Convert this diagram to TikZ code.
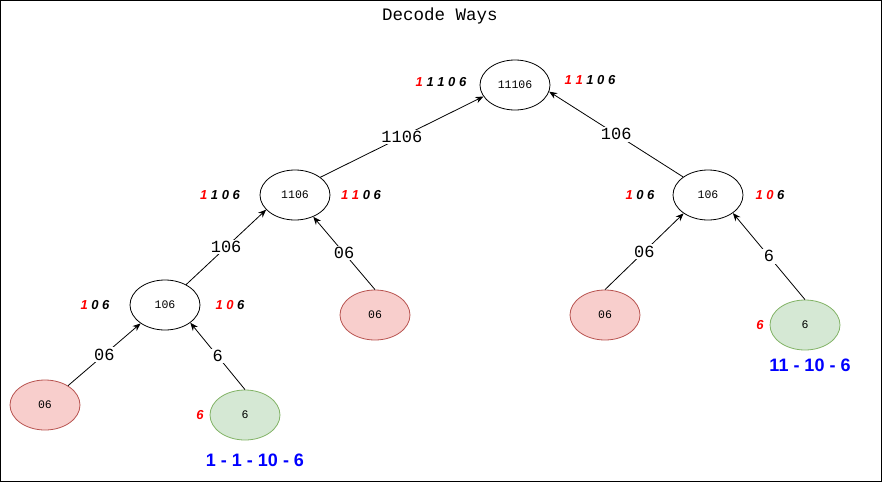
\documentclass[tikz,border=0pt]{standalone}
\usepackage{fontspec}
\setmainfont{Liberation Sans}
\newfontfamily\monofont{Liberation Mono}
\usetikzlibrary{shapes.geometric,arrows.meta}
\definecolor{pinkf}{HTML}{F8CECC}
\definecolor{pinkd}{HTML}{B85450}
\definecolor{greenf}{HTML}{D5E8D4}
\definecolor{greend}{HTML}{82B366}
\definecolor{myred}{HTML}{FF0000}
\definecolor{myblue}{HTML}{0000FF}
\begin{document}
\begin{tikzpicture}[x=1pt,y=-1pt,
  nd/.style={ellipse, draw, line width=0.8pt, minimum width=70pt, minimum height=50pt, inner sep=0pt, font=\monofont\fontsize{11.5}{13}\selectfont},
  bad/.style={nd, fill=pinkf, draw=pinkd},
  good/.style={nd, fill=greenf, draw=greend},
  edge/.style={line width=0.8pt, -{Stealth[length=8pt,width=6.5pt]}},
  lbl/.style={fill=white, inner sep=1.5pt, font=\monofont\fontsize{17}{20}\selectfont},
  seq/.style={font=\bfseries\itshape\fontsize{13}{15}\selectfont},
  res/.style={text=myblue, font=\bfseries\fontsize{18}{21}\selectfont},
  ttl/.style={font=\monofont\fontsize{17.5}{20}\selectfont}]
\useasboundingbox (0,0) rectangle (882,482);
\draw[line width=0.8pt] (0.5,0.5) rectangle (881.5,481.5);
\node[ttl] (title) at (440,16) {Decode Ways};
% nodes
\node[nd] (root) at (515,85) {11106};
\node[nd] (l1) at (295,195) {1106};
\node[nd] (r1) at (708,195) {106};
\node[nd] (l2) at (165,305) {106};
\node[bad] (l2b) at (375,315) {06};
\node[bad] (r2a) at (605,315) {06};
\node[good] (r2b) at (805,325) {6};
\node[bad] (l3a) at (45,405) {06};
\node[good] (l3b) at (245,415) {6};
% edges
\draw[edge] (l1.35) -- node[lbl]{1106} (root.200);
\draw[edge] (r1.144) -- node[lbl]{106} (root.-11);
\draw[edge] (l2.44) -- node[lbl]{106} (l1.-153);
\draw[edge] (l2b.north) -- node[lbl]{06} (l1.-50);
\draw[edge] (r2a.north) -- node[lbl]{06} (r1.-143);
\draw[edge] (r2b.north) -- node[lbl]{6} (r1.-36);
\draw[edge] (l3a.40) -- node[lbl]{06} (l2.-143);
\draw[edge] (l3b.north) -- node[lbl]{6} (l2.-35);
% sequence labels
\node[seq] (s1) at (441,82) {\textcolor{myred}{1} 1 1 0 6};
\node[seq] (s2) at (590,80) {\textcolor{myred}{1 1} 1 0 6};
\node[seq] (s3) at (220,195) {\textcolor{myred}{1} 1 0 6};
\node[seq] (s4) at (361,195) {\textcolor{myred}{1 1} 0 6};
\node[seq] (s5) at (640,195) {\textcolor{myred}{1} 0 6};
\node[seq] (s6) at (770,195) {\textcolor{myred}{1 0} 6};
\node[seq] (s7) at (95,305) {\textcolor{myred}{1} 0 6};
\node[seq] (s8) at (230,305) {\textcolor{myred}{1 0} 6};
\node[seq, text=myred] (s9) at (200,415) {6};
\node[seq, text=myred] (s10) at (760,325) {6};
% results
\node[res] (res1) at (255,460) {1 - 1 - 10 - 6};
\node[res] (res2) at (810,365) {11 - 10 - 6};
\end{tikzpicture}
\end{document}
